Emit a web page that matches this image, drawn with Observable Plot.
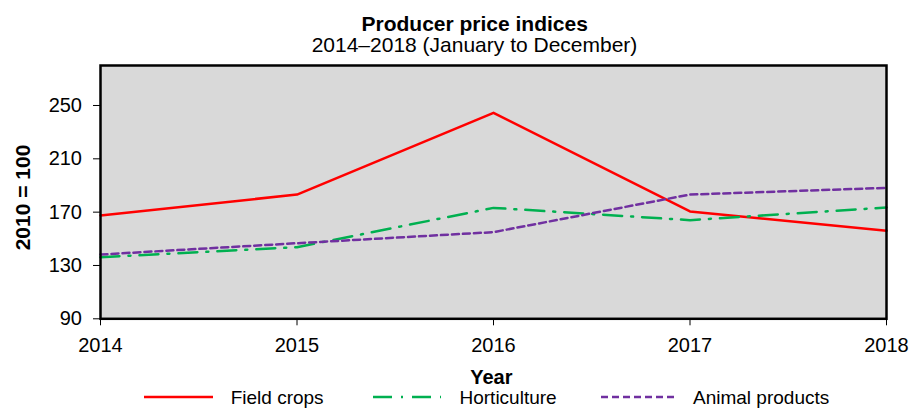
<!DOCTYPE html>
<html>
<head>
<meta charset="utf-8">
<script src="https://cdn.jsdelivr.net/npm/d3@7"></script>
<script src="https://cdn.jsdelivr.net/npm/@observablehq/plot@0.6"></script>
<style>
  html, body { margin: 0; padding: 0; background: white; }
  #chart svg { display: block; }
</style>
</head>
<body>
<div id="chart"></div>
<script>
const years = [2014, 2015, 2016, 2017, 2018];
const fieldCrops = [167.5, 183.2, 244.5, 170.5, 156.0];
const horticulture = [136.2, 143.7, 173.2, 164.0, 173.5];
const animalProducts = [138.2, 146.7, 155.0, 183.2, 188.2];
const yTicks = [90, 130, 170, 210, 250];

const seriesNames = ["Field crops", "Horticulture", "Animal products"];
const seriesColors = ["#ff0000", "#00b050", "#7030a0"];
const seriesDash = [null, "19,9,2,9", "7,4"];
const seriesValues = [fieldCrops, horticulture, animalProducts];

const FONT = "'Liberation Sans', Arial, Helvetica, sans-serif";

const toRows = (vals) => years.map((yr, i) => ({year: yr, value: vals[i]}));

const lineMarks = seriesValues.map((vals, k) =>
  Plot.line(toRows(vals), {
    x: "year", y: "value",
    stroke: seriesColors[k], strokeWidth: 2.5,
    strokeDasharray: seriesDash[k] || undefined,
    strokeLinejoin: "round"
  })
);

const svg = Plot.plot({
  width: 912,
  height: 408,
  marginLeft: 100,
  marginRight: 26,
  marginTop: 65,
  marginBottom: 89.7,
  x: {domain: [2014, 2018]},
  y: {domain: [90, 280]},
  style: {fontFamily: FONT, fontSize: "20px", color: "black", background: "white", overflow: "visible"},
  marks: [
    Plot.frame({fill: "#d9d9d9"}),
    ...lineMarks,
    Plot.frame({stroke: "black", strokeWidth: 2.5}),
    Plot.axisX({ticks: years, tickFormat: d => String(d), tickSize: 7, tickPadding: 12, label: null, fontSize: 20}),
    Plot.axisY({ticks: yTicks, tickSize: 7, tickPadding: 11.5, label: null, fontSize: 20})
  ]
});

document.getElementById("chart").appendChild(svg);

const s = d3.select(svg);
const g = s.append("g").attr("font-family", FONT).attr("fill", "black");

g.append("text").attr("x", 474.7).attr("y", 31.2).attr("text-anchor", "middle")
  .attr("font-size", 21).attr("font-weight", "bold").text("Producer price indices");
g.append("text").attr("x", 474.5).attr("y", 52.2).attr("text-anchor", "middle")
  .attr("font-size", 21).text("2014–2018 (January to December)");
g.append("text").attr("transform", "translate(29.5,197.5) rotate(-90)").attr("text-anchor", "middle")
  .attr("font-size", 21).attr("font-weight", "bold").text("2010 = 100");
g.append("text").attr("x", 491.3).attr("y", 384.3).attr("text-anchor", "middle")
  .attr("font-size", 20).attr("font-weight", "bold").text("Year");

const legendLineX = [[144, 213], [373, 441], [601, 676]];
const legendTextX = [230.7, 459.5, 693];
seriesNames.forEach((name, k) => {
  const ln = g.append("line")
    .attr("x1", legendLineX[k][0]).attr("x2", legendLineX[k][1])
    .attr("y1", 397).attr("y2", 397)
    .attr("stroke", seriesColors[k]).attr("stroke-width", 2.5);
  if (seriesDash[k]) ln.attr("stroke-dasharray", seriesDash[k]);
  g.append("text").attr("x", legendTextX[k]).attr("y", 404)
    .attr("text-anchor", "start")
    .attr("font-size", 19).text(name);
});
</script>
</body>
</html>
